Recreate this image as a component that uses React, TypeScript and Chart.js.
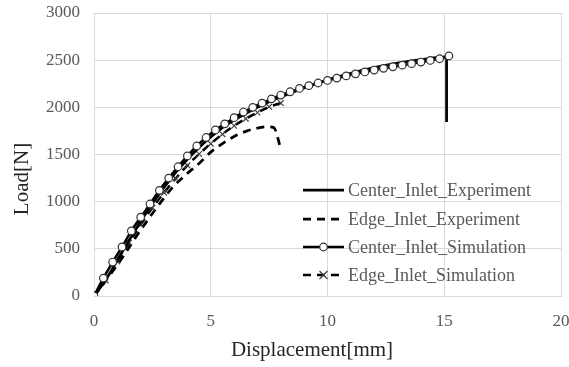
import { useEffect, useRef } from "react";
import { Chart, registerables } from "chart.js";

Chart.register(...registerables);

const xTicks = [0, 5, 10, 15, 20];
const yTicks = [0, 500, 1000, 1500, 2000, 2500, 3000];

const centerExpX = [0, 0.5, 1, 1.5, 2, 2.5, 3, 3.5, 4, 4.5, 5, 5.5, 6, 6.5, 7, 7.5, 8, 9, 10, 11, 12, 13, 14, 15.1, 15.1];
const centerExpY = [0, 170, 380, 590, 790, 980, 1150, 1310, 1450, 1575, 1685, 1785, 1865, 1935, 2000, 2060, 2110, 2205, 2290, 2360, 2420, 2468, 2505, 2535, 1845];

const edgeExpX = [0, 1, 2, 3, 3.4, 4, 4.5, 5, 5.5, 6, 6.5, 7, 7.4, 7.7, 7.8, 7.95];
const edgeExpY = [0, 330, 700, 1040, 1160, 1300, 1405, 1525, 1615, 1690, 1745, 1780, 1793, 1785, 1740, 1600];

const centerSimX = [0, 0.4, 0.8, 1.2, 1.6, 2.0, 2.4, 2.8, 3.2, 3.6, 4.0, 4.4, 4.8, 5.2, 5.6, 6.0, 6.4, 6.8, 7.2, 7.6, 8.0, 8.4, 8.8, 9.2, 9.6, 10.0, 10.4, 10.8, 11.2, 11.6, 12.0, 12.4, 12.8, 13.2, 13.6, 14.0, 14.4, 14.8, 15.2];
const centerSimY = [0, 190, 360, 520, 690, 835, 975, 1120, 1250, 1370, 1485, 1590, 1680, 1760, 1825, 1890, 1950, 2000, 2045, 2090, 2130, 2165, 2200, 2230, 2258, 2285, 2310, 2333, 2355, 2375, 2395, 2413, 2430, 2447, 2463, 2480, 2497, 2515, 2545];

const edgeSimX = [0, 0.5, 1, 1.5, 2, 2.5, 3, 3.5, 4, 4.5, 5, 5.5, 6, 6.5, 7, 7.5, 8];
const edgeSimY = [0, 165, 365, 565, 755, 935, 1095, 1245, 1385, 1505, 1615, 1715, 1805, 1880, 1945, 2005, 2045];

const labels = [
  "Center_Inlet_Experiment",
  "Edge_Inlet_Experiment",
  "Center_Inlet_Simulation",
  "Edge_Inlet_Simulation",
];

const xTitle = "Displacement[mm]";
const yTitle = "Load[N]";

const SERIF = "'Liberation Serif', 'Times New Roman', serif";

const pts = (xs: number[], ys: number[]) => xs.map((x, i) => ({ x, y: ys[i] }));

export default function App() {
  const ref = useRef<HTMLCanvasElement | null>(null);

  useEffect(() => {
    document.body.style.margin = "0";
    const canvas = ref.current;
    if (!canvas) return;

    const legendPlugin = {
      id: "customLegend",
      afterDatasetsDraw(chart: any) {
        const ctx = chart.ctx;
        ctx.save();
        const rows = [190, 219, 247, 275];
        const x0 = 303;
        const x1 = 344;
        chart.data.datasets.forEach((ds: any, i: number) => {
          const y = rows[i];
          ctx.strokeStyle = ds.borderColor;
          ctx.lineWidth = ds.borderWidth;
          ctx.setLineDash(ds.borderDash || []);
          ctx.beginPath();
          ctx.moveTo(x0, y);
          ctx.lineTo(x1, y);
          ctx.stroke();
          ctx.setLineDash([]);
          const mx = (x0 + x1) / 2;
          if (ds.pointStyle === "circle" && ds.pointRadius > 0) {
            ctx.beginPath();
            ctx.arc(mx, y, ds.pointRadius, 0, Math.PI * 2);
            ctx.fillStyle = ds.pointBackgroundColor;
            ctx.fill();
            ctx.lineWidth = ds.pointBorderWidth;
            ctx.strokeStyle = ds.pointBorderColor;
            ctx.stroke();
          } else if (ds.pointStyle === "crossRot" && ds.pointRadius > 0) {
            const r = ds.pointRadius;
            ctx.lineWidth = ds.pointBorderWidth;
            ctx.strokeStyle = ds.pointBorderColor;
            ctx.beginPath();
            ctx.moveTo(mx - r, y - r);
            ctx.lineTo(mx + r, y + r);
            ctx.moveTo(mx - r, y + r);
            ctx.lineTo(mx + r, y - r);
            ctx.stroke();
          }
          ctx.fillStyle = "#595959";
          ctx.font = `18px ${SERIF}`;
          ctx.textBaseline = "middle";
          ctx.textAlign = "left";
          ctx.fillText(labels[i], 348, y + 1);
        });
        ctx.restore();
      },
      afterDraw(chart: any) {
        const ctx = chart.ctx;
        ctx.save();
        ctx.fillStyle = "#262626";
        ctx.font = `21px ${SERIF}`;
        ctx.textAlign = "center";
        ctx.textBaseline = "middle";
        ctx.fillText(xTitle, 312, 350);
        ctx.translate(22, 179);
        ctx.rotate(-Math.PI / 2);
        ctx.fillText(yTitle, 0, 0);
        ctx.restore();
      },
    };

    const chart = new Chart(canvas, {
      type: "line",
      data: {
        datasets: [
          {
            label: labels[0],
            data: pts(centerExpX, centerExpY),
            borderColor: "#000000",
            borderWidth: 2.75,
            pointRadius: 0,
            pointStyle: "circle",
            cubicInterpolationMode: "monotone",
            order: 1,
          },
          {
            label: labels[1],
            data: pts(edgeExpX, edgeExpY),
            borderColor: "#000000",
            borderWidth: 2.75,
            borderDash: [8, 6],
            pointRadius: 0,
            pointStyle: "circle",
            cubicInterpolationMode: "monotone",
            order: 3,
          },
          {
            label: labels[2],
            data: pts(centerSimX, centerSimY),
            borderColor: "#000000",
            borderWidth: 2.5,
            pointStyle: "circle",
            pointRadius: 3.8,
            pointBorderWidth: 1.2,
            pointBorderColor: "#333333",
            pointBackgroundColor: "#ffffff",
            cubicInterpolationMode: "monotone",
            order: 0,
          },
          {
            label: labels[3],
            data: pts(edgeSimX, edgeSimY),
            borderColor: "#000000",
            borderWidth: 2.5,
            borderDash: [8, 6],
            pointStyle: "crossRot",
            pointRadius: 4,
            pointBorderWidth: 1.2,
            pointBorderColor: "#404040",
            cubicInterpolationMode: "monotone",
            order: 2,
          },
        ],
      },
      options: {
        responsive: false,
        animation: false,
        devicePixelRatio: 1,
        parsing: false as any,
        layout: { padding: { top: 13, right: 8, left: 0, bottom: 0 } },
        plugins: {
          legend: { display: false },
          tooltip: { enabled: false },
        },
        scales: {
          x: {
            type: "linear",
            min: 0,
            max: 20,
            afterBuildTicks: (s: any) => {
              s.ticks = xTicks.map((v) => ({ value: v }));
            },
            afterFit: (s: any) => {
              s.height = 71;
              s.paddingLeft = 0;
              s.paddingRight = 0;
            },
            ticks: {
              color: "#595959",
              font: { family: SERIF, size: 17 },
              padding: 15,
              maxRotation: 0,
              callback: (v: any) => String(v),
            },
            grid: { color: "#d9d9d9", drawTicks: false, tickLength: 0 },
            border: { display: true, color: "#d9d9d9" },
          },
          y: {
            type: "linear",
            min: 0,
            max: 3000,
            afterBuildTicks: (s: any) => {
              s.ticks = yTicks.map((v) => ({ value: v }));
            },
            afterFit: (s: any) => {
              s.width = 94;
              s.paddingTop = 0;
              s.paddingBottom = 0;
            },
            ticks: {
              color: "#595959",
              font: { family: SERIF, size: 17 },
              padding: 14,
              callback: (v: any) => String(v),
            },
            grid: { color: "#d9d9d9", drawTicks: false, tickLength: 0 },
            border: { display: true, color: "#d9d9d9" },
          },
        },
      },
      plugins: [legendPlugin],
    } as any);

    return () => chart.destroy();
  }, []);

  return <canvas ref={ref} width={569} height={367} style={{ display: "block" }} />;
}
